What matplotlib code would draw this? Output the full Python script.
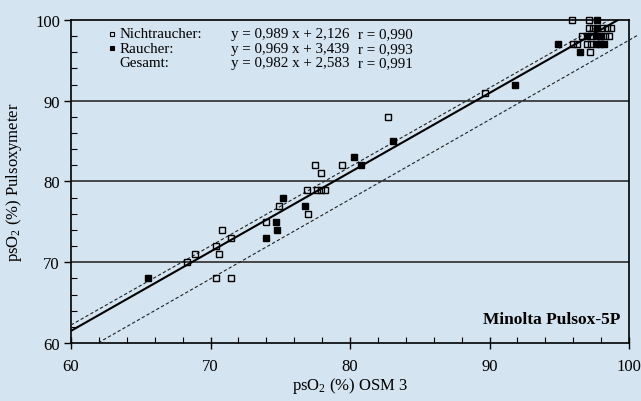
import matplotlib
matplotlib.use("Agg")
import matplotlib.pyplot as plt
import numpy as np
from matplotlib.ticker import MultipleLocator

plt.rcParams['font.family'] = ['Liberation Serif', 'DejaVu Serif']
plt.rcParams['mathtext.fontset'] = 'stix'

BG = '#d4e4f0'

# Nichtraucher (non-smokers) - open squares
nr_x = [68.3, 68.9, 70.4, 70.6, 70.8, 71.5, 70.4, 71.5, 74.0, 74.9, 77.0,
        76.9, 77.6, 77.9, 78.2, 77.5, 77.9, 79.4, 82.7, 89.7,
        95.9, 97.1, 97.1, 97.4, 98.1, 98.4, 98.7,
        96.6, 97.3, 98.0, 98.3, 98.6,
        96.0, 96.3, 97.0, 97.3, 97.2]
nr_y = [70.0, 71.0, 72.0, 71.0, 74.0, 73.0, 68.0, 68.0, 75.0, 77.0, 76.0,
        79.0, 79.0, 79.0, 79.0, 82.0, 81.0, 82.0, 88.0, 91.0,
        100, 100, 99, 99, 99, 99, 99,
        98, 98, 98, 98, 98,
        97, 97, 97, 97, 96]

# Raucher (smokers) - filled squares
r_x = [65.5, 74.0, 74.7, 74.8, 75.2, 76.8, 80.3, 80.8, 83.1, 91.8,
       97.7, 97.7, 97.0, 97.6, 97.9, 94.9, 97.6, 97.9, 98.2, 96.5]
r_y = [68.0, 73.0, 75.0, 74.0, 78.0, 77.0, 83.0, 82.0, 85.0, 92.0,
       100, 99, 98, 98, 98, 97, 97, 97, 97, 96]

# Lines: slope, intercept, x range
gesamt = (0.982, 2.583, 60.0, 99.28)
upper_dash = (0.979, 3.49, 60.0, 98.57)
lower_dash = (0.985, -1.0, 61.96, 100.7)

legend_names = ['Nichtraucher:', 'Raucher:', 'Gesamt:']
legend_eq = ['y = 0,989 x + 2,126', 'y = 0,969 x + 3,439', 'y = 0,982 x + 2,583']
legend_r = ['r = 0,990', 'r = 0,993', 'r = 0,991']

fig = plt.figure(figsize=(6.41, 4.02), dpi=100, facecolor=BG)
ax = fig.add_axes([71/641, 1-344/402, 558/641, 323/402])
ax.set_facecolor(BG)
ax.set_xlim(60, 100)
ax.set_ylim(60, 100)

for yv in [70, 80, 90]:
    ax.axhline(yv, color='#3a3a3a', lw=1.3, zorder=1)

def draw_line(p, **kw):
    s, b, x0, x1 = p
    xs = np.array([x0, x1])
    ax.plot(xs, s*xs + b, **kw)

draw_line(gesamt, color='black', lw=1.5, zorder=3, solid_capstyle='butt')
draw_line(upper_dash, color='#222222', lw=0.8, ls=(0, (3, 2)), zorder=3)
draw_line(lower_dash, color='#222222', lw=0.8, ls=(0, (3, 2)), zorder=3, clip_on=False)

ax.plot(nr_x, nr_y, ls='none', marker='s', ms=5, mfc='none', mec='black',
        mew=1.0, zorder=4, clip_on=False)
ax.plot(r_x, r_y, ls='none', marker='s', ms=5, mfc='black', mec='black',
        mew=1.0, zorder=4, clip_on=False)

for sp in ax.spines.values():
    sp.set_color('black')
    sp.set_linewidth(1.2)

ax.xaxis.set_major_locator(MultipleLocator(10))
ax.xaxis.set_minor_locator(MultipleLocator(2))
ax.yaxis.set_major_locator(MultipleLocator(10))
ax.yaxis.set_minor_locator(MultipleLocator(2))
ax.tick_params(axis='x', which='major', direction='inout', length=9, width=1.0,
               labelsize=12, pad=6)
ax.tick_params(axis='x', which='minor', direction='in', length=4, width=0.8)
ax.tick_params(axis='y', which='major', direction='out', length=5, width=1.0,
               labelsize=12, pad=3)
ax.tick_params(axis='y', which='minor', direction='in', length=4, width=0.8)
ax.tick_params(top=False, right=False, which='both')

ax.set_xlabel(r'psO$\mathregular{_2}$ (%) OSM 3', fontsize=12, labelpad=1)
ax.set_ylabel(r'psO$\mathregular{_2}$ (%) Pulsoxymeter', fontsize=12, labelpad=8)

rows_y = [0.957, 0.912, 0.867]
ax.plot([0.0735], [rows_y[0]], transform=ax.transAxes, marker='s', ms=3.5,
        mfc='none', mec='black', mew=0.8, clip_on=False)
ax.plot([0.0735], [rows_y[1]], transform=ax.transAxes, marker='s', ms=3.5,
        mfc='black', mec='black', mew=0.8, clip_on=False)
for i in range(3):
    ax.text(0.0866, rows_y[i], legend_names[i], transform=ax.transAxes,
            fontsize=10.8, va='center', ha='left')
    ax.text(0.286, rows_y[i], legend_eq[i], transform=ax.transAxes,
            fontsize=10.8, va='center', ha='left')
    ax.text(0.514, rows_y[i], legend_r[i], transform=ax.transAxes,
            fontsize=10.8, va='center', ha='left')

ax.text(0.984, 0.074, 'Minolta Pulsox-5P', transform=ax.transAxes,
        fontsize=12.5, fontweight='bold', ha='right', va='center')

fig.savefig('out.png', dpi=100, facecolor=BG)
